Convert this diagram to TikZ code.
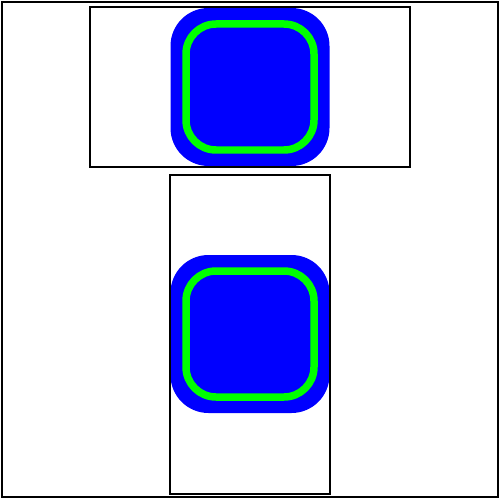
\documentclass[tikz,border=0pt]{standalone}
\begin{document}
\begin{tikzpicture}[x=0.02cm,y=-0.02cm,
		frame/.style={draw=black, line width=0.04cm},
		pad/.style={fill=blue, rounded corners=0.76cm},
		ring/.style={draw=green, line width=0.15cm, rounded corners=0.6cm}]
		\useasboundingbox (0,0) rectangle (500,500);
		\foreach \y in {8,255} {
			\fill[pad] (170.5,\y) rectangle (329.5,\y+158);
			\draw[ring] (186,\y+16) rectangle (314,\y+142);
		}
		\draw[frame] (2,2) rectangle (498,497);
		\draw[frame] (90,7.5) rectangle (410,167);
		\draw[frame] (170,175) rectangle (330,494);
	\end{tikzpicture}
\end{document}
